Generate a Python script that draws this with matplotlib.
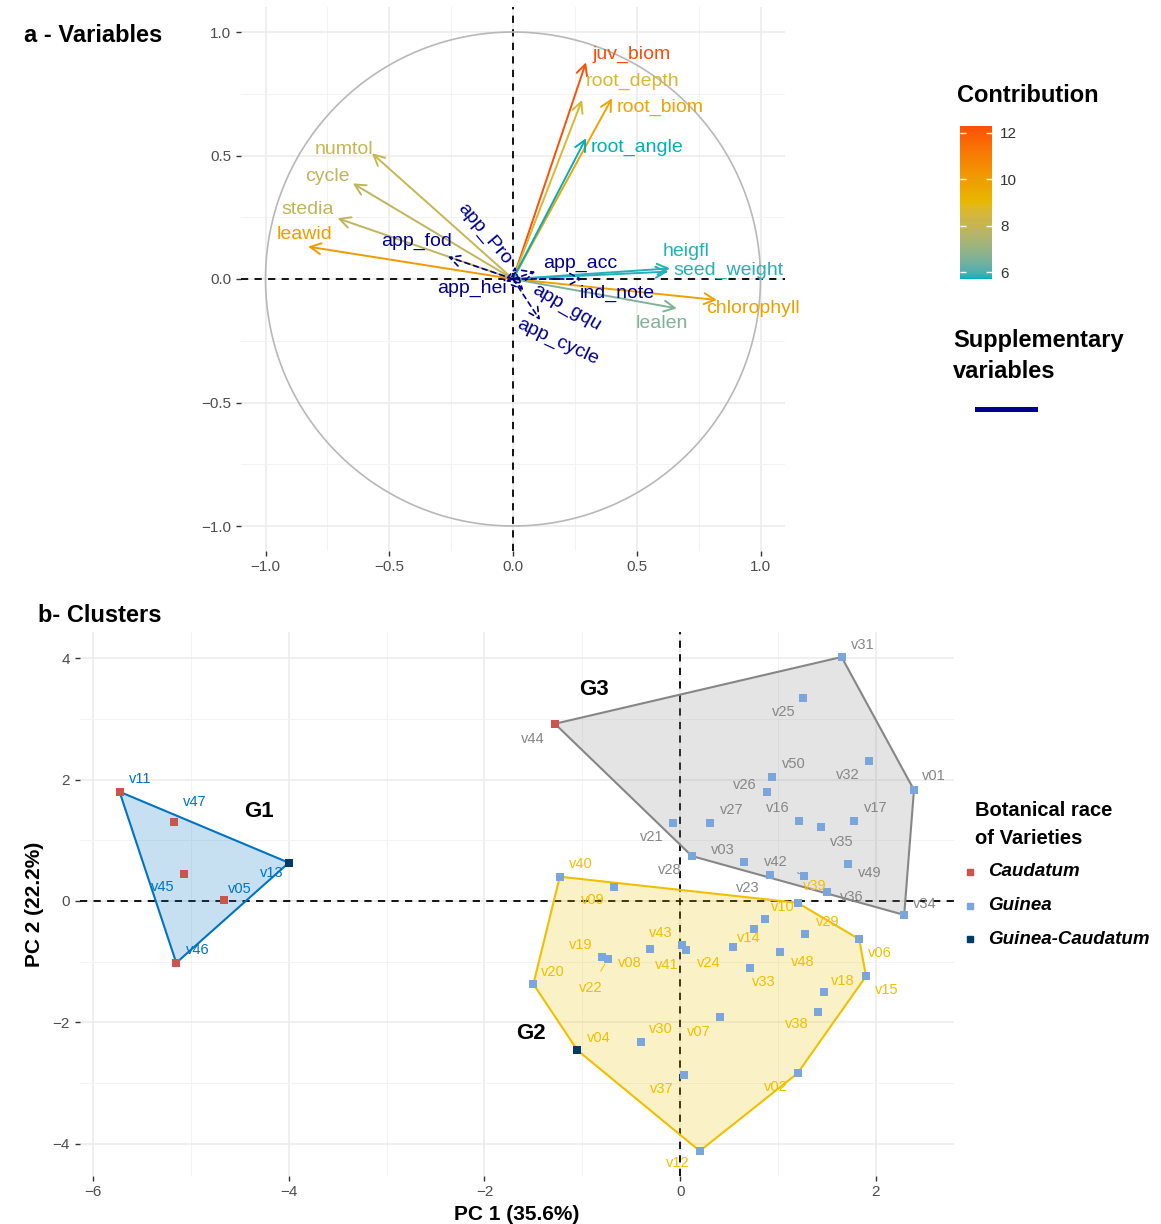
import numpy as np
import matplotlib
matplotlib.use("Agg")
import matplotlib.pyplot as plt
from matplotlib.colors import ListedColormap, Normalize, to_rgb
from matplotlib.cm import ScalarMappable
from matplotlib.lines import Line2D
from matplotlib.patches import Polygon

plt.rcParams["font.family"] = ["Liberation Sans", "DejaVu Sans"]

# ---------------------------------------------------------------- panel a data
VAR_NAMES = ["juv_biom", "root_depth", "root_biom", "root_angle", "numtol", "cycle",
             "stedia", "leawid", "heigfl", "seed_weight", "chlorophyll", "lealen"]
VAR_PC1 = [0.295, 0.279, 0.40, 0.295, -0.57, -0.647, -0.709, -0.828, 0.634, 0.628, 0.824, 0.662]
VAR_PC2 = [0.877, 0.725, 0.732, 0.570, 0.509, 0.387, 0.246, 0.131, 0.043, 0.030, -0.085, -0.119]
VAR_CONTRIB = [12.3, 8.6, 9.8, 5.72, 8.1, 7.9, 7.9, 10.1, 5.8, 5.8, 9.9, 6.6]

SUP_NAMES = ["app_fod", "app_Pro", "app_hei", "app_acc", "ind_note", "app_gqu", "app_cycle"]
SUP_PC1 = [-0.263, 0.01, -0.03, 0.09, 0.28, 0.042, 0.109]
SUP_PC2 = [0.09, 0.05, -0.01, 0.03, 0.0, -0.045, -0.166]

# ---------------------------------------------------------------- panel b data
IND_NAMES = ["v11", "v47", "v13", "v45", "v05", "v46",
             "v31", "v25", "v44", "v32", "v01", "v50", "v26", "v21", "v27", "v16",
             "v35", "v17", "v03", "v42", "v49", "v23", "v28", "v36", "v34",
             "v40", "v09", "v39", "v10", "v14", "v29", "v06", "v24", "v48", "v43",
             "v41", "v08", "v19", "v22", "v33", "v20", "v15", "v18", "v38", "v07",
             "v30", "v04", "v37", "v02", "v12"]
IND_PC1 = [-5.73, -5.17, -4.00, -5.07, -4.66, -5.15,
           1.65, 1.26, -1.28, 1.93, 2.39, 0.94, 0.89, -0.07, 0.31, 1.21,
           1.44, 1.78, 0.65, 1.27, 1.72, 0.92, 0.12, 1.50, 2.29,
           -1.23, -0.68, 1.20, 0.87, 0.75, 1.28, 1.83, 0.54, 1.02, -0.31,
           0.02, 0.06, -0.80, -0.74, 0.71, -1.50, 1.90, 1.47, 1.41, 0.41,
           -0.40, -1.05, 0.04, 1.20, 0.20]
IND_PC2 = [1.80, 1.30, 0.63, 0.45, 0.02, -1.02,
           4.02, 3.35, 2.92, 2.31, 1.83, 2.04, 1.80, 1.29, 1.29, 1.32,
           1.22, 1.32, 0.64, 0.41, 0.61, 0.43, 0.74, 0.15, -0.23,
           0.40, 0.23, -0.03, -0.30, -0.46, -0.54, -0.63, -0.76, -0.84, -0.79,
           -0.73, -0.81, -0.92, -0.96, -1.10, -1.37, -1.24, -1.50, -1.83, -1.91,
           -2.32, -2.46, -2.87, -2.84, -4.12]
IND_GROUP = ["G1"] * 6 + ["G3"] * 19 + ["G2"] * 25
IND_RACE = ["Caudatum", "Caudatum", "Guinea-Caudatum", "Caudatum", "Caudatum", "Caudatum",
            "Guinea", "Guinea", "Caudatum"] + ["Guinea"] * 16 + \
           ["Guinea"] * 21 + ["Guinea-Caudatum", "Guinea", "Guinea", "Guinea"]

RACES = ["Caudatum", "Guinea", "Guinea-Caudatum"]
GROUPS = ["G1", "G2", "G3"]

# ---------------------------------------------------------------- styling
GRAD = ["#00AFBB", "#E7B800", "#FC4E07"]
SUP_COLOR = "#00008B"
GROUP_COLORS = {"G1": "#0073C2", "G2": "#EFC000", "G3": "#868686"}
RACE_COLORS = {"Caudatum": "#CD534C", "Guinea": "#7AA6DC", "Guinea-Caudatum": "#003C67"}
TICK_KW = dict(length=3.5, width=1, color="#333333", labelcolor="#4d4d4d", labelsize=11)

# label placement relative to arrow tip (data units) and rotation
VAR_LABEL_OFFSETS = {
    "juv_biom": (0.186, 0.034), "root_depth": (0.202, 0.075), "root_biom": (0.194, -0.037),
    "root_angle": (0.208, -0.037), "numtol": (-0.111, 0.017), "cycle": (-0.101, 0.027),
    "stedia": (-0.119, 0.037), "leawid": (-0.016, 0.051), "heigfl": (0.067, 0.068),
    "seed_weight": (0.241, 0.004), "chlorophyll": (0.146, -0.034), "lealen": (-0.061, -0.063),
}
SUP_LABEL_OFFSETS = {
    "app_fod": (-0.125, 0.064, 0), "app_Pro": (-0.127, 0.134, -50), "app_hei": (-0.136, -0.028, 0),
    "app_acc": (0.183, 0.033, 0), "ind_note": (0.14, -0.058, 0), "app_gqu": (0.176, -0.072, -30),
    "app_cycle": (0.073, -0.088, -25),
}

# individual label offsets in screen pixels (dx right, dy down)
IND_LABEL_PX = {
    "v11": (21, -13), "v47": (20, -20), "v13": (-17, 10), "v45": (-21, 13), "v05": (16, -11),
    "v46": (21, -13), "v31": (21, -12), "v25": (-20, 14), "v44": (-22, 15), "v32": (-21, 14),
    "v01": (20, -14), "v50": (22, -13), "v26": (-22, -7), "v21": (-22, 14), "v27": (21, -13),
    "v16": (-21, -13), "v35": (21, 15), "v17": (21, -13), "v03": (-21, -12), "v42": (-29, -14),
    "v49": (21, 9), "v23": (-22, 13), "v28": (-22, 14), "v36": (25, 5), "v34": (21, -11),
    "v40": (21, -13), "v09": (-21, 13), "v39": (17, -17), "v10": (18, -12), "v14": (-5, 9),
    "v29": (22, -12), "v06": (21, 14), "v24": (-24, 16), "v48": (23, 10), "v43": (11, -16),
    "v41": (-15, 20), "v08": (-56, 13), "v19": (-21, -12), "v22": (-17, 29), "v33": (14, 14),
    "v20": (19, -12), "v15": (21, 14), "v18": (19, -11), "v38": (-21, 12), "v07": (-21, 15),
    "v30": (20, -13), "v04": (21, -12), "v37": (-22, 14), "v02": (-22, 14), "v12": (-22, 12),
}
LEADERS = {"v42", "v22"}
GROUP_TAGS = {"G1": (-4.30, 1.47), "G2": (-1.53, -2.19), "G3": (-0.88, 3.48)}

W, H = 1161, 1224


def fx(px):
    return px / W


def fy(py):
    return 1 - py / H


# ggplot2 interpolates gradientn colours in Lab space, which gives the greyish
# middle between teal and gold; plain RGB interpolation turns green instead.
_WHITE = np.array([0.95047, 1.0, 1.08883])
_M = np.array([[0.4124, 0.3576, 0.1805], [0.2126, 0.7152, 0.0722], [0.0193, 0.1192, 0.9505]])


def _to_lab(hexcol):
    c = np.array(to_rgb(hexcol))
    c = np.where(c > 0.04045, ((c + 0.055) / 1.055) ** 2.4, c / 12.92)
    xyz = _M @ c / _WHITE
    f = np.where(xyz > 0.008856, np.cbrt(xyz), 7.787 * xyz + 16 / 116)
    return np.array([116 * f[1] - 16, 500 * (f[0] - f[1]), 200 * (f[1] - f[2])])


def _from_lab(lab):
    fy_ = (lab[0] + 16) / 116
    f = np.array([fy_ + lab[1] / 500, fy_, fy_ - lab[2] / 200])
    xyz = np.where(f ** 3 > 0.008856, f ** 3, (f - 16 / 116) / 7.787) * _WHITE
    c = np.linalg.solve(_M, xyz)
    c = np.where(c > 0.0031308, 1.055 * np.clip(c, 0, None) ** (1 / 2.4) - 0.055, 12.92 * c)
    return np.clip(c, 0, 1)


def lab_cmap(colors, n=256):
    labs = [_to_lab(c) for c in colors]
    stops = np.linspace(0, 1, len(colors))
    out = []
    for t in np.linspace(0, 1, n):
        i = min(np.searchsorted(stops, t, side="right") - 1, len(colors) - 2)
        u = (t - stops[i]) / (stops[i + 1] - stops[i])
        out.append(_from_lab(labs[i] * (1 - u) + labs[i + 1] * u))
    return ListedColormap(out)


def convex_hull(pts):
    pts = sorted(set(pts))
    if len(pts) < 3:
        return pts

    def cross(o, a, b):
        return (a[0] - o[0]) * (b[1] - o[1]) - (a[1] - o[1]) * (b[0] - o[0])

    lower, upper = [], []
    for p in pts:
        while len(lower) >= 2 and cross(lower[-2], lower[-1], p) <= 0:
            lower.pop()
        lower.append(p)
    for p in reversed(pts):
        while len(upper) >= 2 and cross(upper[-2], upper[-1], p) <= 0:
            upper.pop()
        upper.append(p)
    return lower[:-1] + upper[:-1]


def style_axes(ax, major_x, major_y, minor_x, minor_y):
    for s in ax.spines.values():
        s.set_visible(False)
    ax.set_xticks(major_x)
    ax.set_yticks(major_y)
    ax.set_xticks(minor_x, minor=True)
    ax.set_yticks(minor_y, minor=True)
    ax.tick_params(which="major", **TICK_KW)
    ax.tick_params(which="minor", length=0)
    ax.grid(which="major", color="#ebebeb", lw=1.1, zorder=0)
    ax.grid(which="minor", color="#f3f3f3", lw=0.7, zorder=0)
    ax.set_axisbelow(True)
    ax.axhline(0, color="black", lw=1.3, ls=(0, (4, 3.5)), zorder=1)
    ax.axvline(0, color="black", lw=1.3, ls=(0, (4, 3.5)), zorder=1)


fig = plt.figure(figsize=(W / 100, H / 100), dpi=100)

# ================================================================ panel a
ax1 = fig.add_axes([fx(240.75), fy(550.7), fx(544.5), 543.4 / H])
style_axes(ax1, [-1, -0.5, 0, 0.5, 1], [-1, -0.5, 0, 0.5, 1],
           [-0.75, -0.25, 0.25, 0.75], [-0.75, -0.25, 0.25, 0.75])
ax1.set_xticklabels(["\u22121.0", "\u22120.5", "0.0", "0.5", "1.0"])
ax1.set_yticklabels(["\u22121.0", "\u22120.5", "0.0", "0.5", "1.0"])
ax1.set_xlim(-1.1, 1.1)
ax1.set_ylim(-1.1, 1.1)

theta = np.linspace(0, 2 * np.pi, 400)
ax1.plot(np.cos(theta), np.sin(theta), color="#b8b8b8", lw=1.2, zorder=2)

cmap = lab_cmap(GRAD)
norm = Normalize(vmin=min(VAR_CONTRIB), vmax=max(VAR_CONTRIB))

for name, x, y, c in zip(VAR_NAMES, VAR_PC1, VAR_PC2, VAR_CONTRIB):
    col = cmap(norm(c))
    ax1.annotate("", xy=(x, y), xytext=(0, 0),
                 arrowprops=dict(arrowstyle="->,head_length=0.55,head_width=0.28",
                                 color=col, lw=1.4, shrinkA=0, shrinkB=0, mutation_scale=14),
                 zorder=3)
    dx, dy = VAR_LABEL_OFFSETS[name]
    ax1.text(x + dx, y + dy, name, color=col, fontsize=14, ha="center", va="center", zorder=4)

for name, x, y in zip(SUP_NAMES, SUP_PC1, SUP_PC2):
    ax1.annotate("", xy=(x, y), xytext=(0, 0),
                 arrowprops=dict(arrowstyle="->,head_length=0.55,head_width=0.28",
                                 color=SUP_COLOR, lw=1.2, ls=(0, (3, 2.5)),
                                 shrinkA=0, shrinkB=0, mutation_scale=14),
                 zorder=3)
    dx, dy, rot = SUP_LABEL_OFFSETS[name]
    ax1.text(x + dx, y + dy, name, color=SUP_COLOR, fontsize=14, ha="center", va="center",
             rotation=rot, rotation_mode="anchor", zorder=4)

fig.text(fx(24), fy(35), "a - Variables", fontsize=17, fontweight="bold", va="center")

# contribution colour bar
cax = fig.add_axes([fx(960), fy(279), fx(32), 153 / H])
cb = fig.colorbar(ScalarMappable(norm=norm, cmap=cmap), cax=cax, ticks=[6, 8, 10, 12])
cb.outline.set_visible(False)
cax.tick_params(direction="in", length=4, width=1, color="white", labelcolor="#333333",
                labelsize=11, pad=6, left=True, right=True)
fig.text(fx(957), fy(96), "Contribution", fontsize=17, fontweight="bold", va="center")
fig.text(fx(953), fy(356), "Supplementary\nvariables", fontsize=17, fontweight="bold",
         va="center", linespacing=1.4)
fig.add_artist(Line2D([fx(977), fx(1035)], [fy(409), fy(409)], color=SUP_COLOR, lw=3.6,
                      transform=fig.transFigure))

# ================================================================ panel b
ax2 = fig.add_axes([fx(79.8), fy(1175.7), fx(873.9), 543.4 / H])
style_axes(ax2, [-6, -4, -2, 0, 2], [-4, -2, 0, 2, 4],
           [-5, -3, -1, 1], [-3, -1, 1, 3])
ax2.set_xticklabels(["\u22126", "\u22124", "\u22122", "0", "2"])
ax2.set_yticklabels(["\u22124", "\u22122", "0", "2", "4"])

pc1 = np.array(IND_PC1)
pc2 = np.array(IND_PC2)
xr = pc1.max() - pc1.min()
yr = pc2.max() - pc2.min()
ax2.set_xlim(pc1.min() - 0.05 * xr, pc1.max() + 0.05 * xr)
ax2.set_ylim(pc2.min() - 0.05 * yr, pc2.max() + 0.05 * yr)

groups = np.array(IND_GROUP)
races = np.array(IND_RACE)
for g in GROUPS:
    m = groups == g
    hull = convex_hull(list(zip(pc1[m], pc2[m])))
    ax2.add_patch(Polygon(hull, closed=True, facecolor=GROUP_COLORS[g], alpha=0.22,
                          edgecolor="none", zorder=2))
    ax2.add_patch(Polygon(hull, closed=True, facecolor="none",
                          edgecolor=GROUP_COLORS[g], lw=1.5, zorder=2.5))

for r in RACES:
    m = races == r
    ax2.scatter(pc1[m], pc2[m], marker="s", s=28, color=RACE_COLORS[r], linewidths=0, zorder=4)

PX = 0.72
for name, x, y, g in zip(IND_NAMES, pc1, pc2, groups):
    dx, dy = IND_LABEL_PX[name]
    kw = {}
    if name in LEADERS:
        kw["arrowprops"] = dict(arrowstyle="-", color=GROUP_COLORS[g], lw=0.7,
                                shrinkA=6, shrinkB=4)
    ax2.annotate(name, xy=(x, y), xytext=(dx * PX, -dy * PX), textcoords="offset points",
                 color=GROUP_COLORS[g], fontsize=10.5, ha="center", va="center", zorder=5, **kw)

for g, (x, y) in GROUP_TAGS.items():
    ax2.text(x, y, g, fontsize=16, fontweight="bold", ha="center", va="center", zorder=6)

ax2.set_xlabel("PC 1 (35.6%)", fontsize=15, fontweight="bold", labelpad=4)
ax2.set_ylabel("PC 2 (22.2%)", fontsize=15, fontweight="bold", labelpad=6)

fig.text(fx(38), fy(616), "b- Clusters", fontsize=17, fontweight="bold", va="center")

# race legend
fig.text(fx(975), fy(824), "Botanical race\nof Varieties", fontsize=14.5, fontweight="bold",
         va="center", linespacing=1.6)
for i, r in enumerate(RACES):
    yy = fy(872 + 33.5 * i)
    fig.add_artist(Line2D([fx(970)], [yy], marker="s", markersize=5, color=RACE_COLORS[r],
                          lw=0, transform=fig.transFigure))
    fig.text(fx(988), yy, r, fontsize=13.5, fontweight="bold", fontstyle="italic", va="center")

fig.savefig("out.png", dpi=100, facecolor="white")
